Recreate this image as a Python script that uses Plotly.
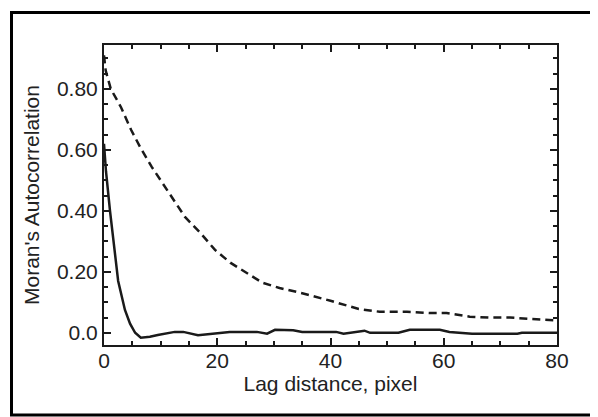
import plotly.graph_objects as go

# Dashed series (upper curve)
lag_dashed = [0, 0.3, 1.2, 3.0, 4.8, 6.5, 8.4, 10.2, 12.2, 14.3, 17.0, 19.6, 22.3, 25.2, 28.0, 31.0,
              35.0, 40.0, 45.0, 48.7, 53.5, 57.5, 60.5, 64.6, 68.0, 71.7, 75.0, 78.0, 80.0]
moran_dashed = [0.91, 0.86, 0.80, 0.74, 0.665, 0.605, 0.545, 0.495, 0.436, 0.38, 0.328, 0.272, 0.23,
                0.196, 0.164, 0.147, 0.13, 0.105, 0.078, 0.069, 0.069, 0.065, 0.065, 0.053, 0.05,
                0.05, 0.046, 0.04, 0.04]

# Solid series (lower curve)
lag_solid = [0, 0.35, 1.06, 1.9, 2.5, 3.7, 4.6, 5.5, 6.5, 8.1, 9.5, 12.5, 14.0, 16.6, 20.0, 22.2,
             27.0, 28.8, 30.2, 33.4, 35.0, 41.0, 42.3, 45.0, 46.0, 47.0, 52.0, 54.0, 59.3, 61.0,
             63.4, 65.0, 73.0, 73.8, 80.0]
moran_solid = [0.62, 0.53, 0.40, 0.26, 0.17, 0.075, 0.03, 0.0, -0.016, -0.013, -0.007, 0.003, 0.003,
               -0.008, 0.0, 0.003, 0.003, -0.003, 0.01, 0.008, 0.003, 0.003, -0.003, 0.003, 0.007,
               0.0, 0.0, 0.01, 0.01, 0.003, 0.0, -0.003, -0.003, 0.0, 0.0]

y_tickvals = [0.0, 0.2, 0.4, 0.6, 0.8]
y_ticktext = ["0.0", "0.20", "0.40", "0.60", "0.80"]
x_tickvals = [0, 20, 40, 60, 80]

FONT = "Liberation Sans, Arial, sans-serif"
INK = "#1a1a1a"

# page body has an 8px default margin, so the figure is laid out 8px smaller
W, H = 590, 409
L, T, PW, PH = 96, 37, 453, 300

fig = go.Figure()
fig.add_trace(go.Scatter(x=lag_dashed, y=moran_dashed, mode="lines",
                         line=dict(color=INK, width=2.5, dash="8px,5px"), showlegend=False))
fig.add_trace(go.Scatter(x=lag_solid, y=moran_solid, mode="lines",
                         line=dict(color=INK, width=2.5), showlegend=False))

fig.update_layout(
    width=W, height=H,
    margin=dict(l=L, r=W - L - PW, t=T, b=H - T - PH),
    paper_bgcolor="white", plot_bgcolor="white",
    font=dict(family=FONT, size=21, color="#222"),
    xaxis=dict(range=[0, 80], tickvals=x_tickvals, ticks="inside", ticklen=7, tickwidth=2,
               tickcolor=INK, showline=True, linewidth=2, linecolor=INK, mirror="ticks",
               showgrid=False, zeroline=False, ticklabelstandoff=-4,
               minor=dict(ticks="inside", dtick=5, ticklen=4, tickwidth=2, tickcolor=INK),
               title=dict(text="Lag distance, pixel", font=dict(size=21), standoff=2),
               tickfont=dict(size=21)),
    yaxis=dict(range=[-0.04, 0.944], tickvals=y_tickvals, ticktext=y_ticktext, ticks="inside",
               ticklen=7, tickwidth=2, tickcolor=INK, showline=True, linewidth=2, linecolor=INK,
               mirror="ticks", showgrid=False, zeroline=False,
               minor=dict(ticks="inside", tickvals=[0.05, 0.1, 0.15, 0.25, 0.3, 0.35, 0.45, 0.5, 0.55,
                                                   0.65, 0.7, 0.75, 0.85, 0.9],
                          ticklen=4, tickwidth=2, tickcolor=INK),
               title=dict(text="Moran's Autocorrelation", font=dict(size=21), standoff=12),
               tickfont=dict(size=21)),
    shapes=[dict(type="rect", xref="paper", yref="paper",
                 x0=(3.5 - L) / PW, x1=(588 - L) / PW,
                 y0=(T + PH - 407) / PH, y1=(T + PH - 4.5) / PH,
                 line=dict(color="black", width=3), layer="below")],
)

fig.write_html("out.html")
